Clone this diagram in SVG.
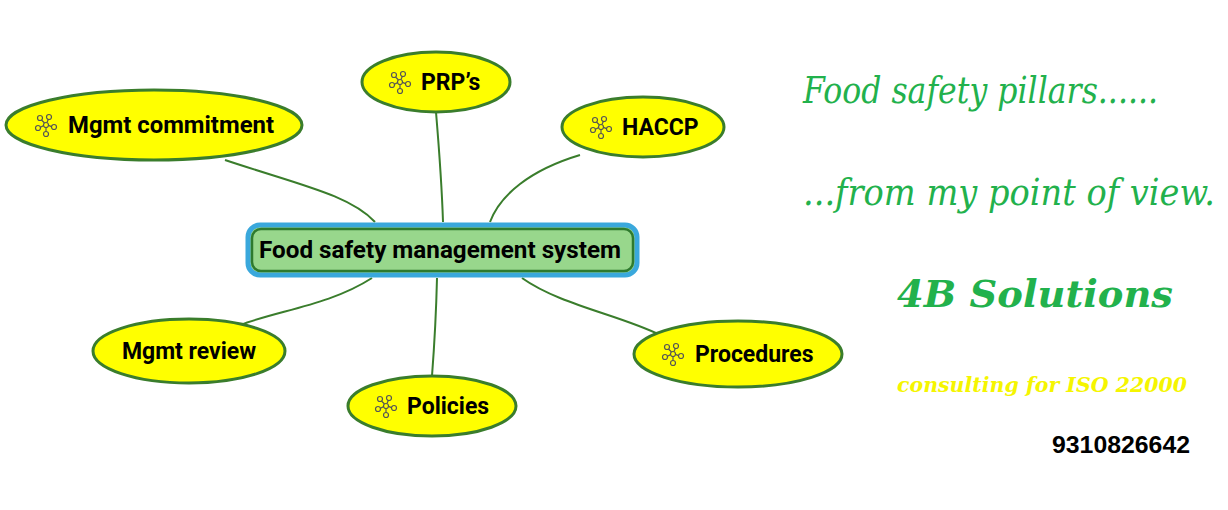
<svg xmlns="http://www.w3.org/2000/svg" width="1228" height="510" viewBox="0 0 1228 510">
<style>
.n{fill:#ffff00;stroke:#3a7d2c;stroke-width:3}
.t{font-family:Roboto,"Liberation Sans",sans-serif;font-weight:bold;font-size:23px;fill:#000}
.c{fill:none;stroke:#3a7d2c;stroke-width:2}
.s{font-family:"DejaVu Serif","Liberation Serif",serif;font-style:italic;fill:#22b14c}
</style>
<defs>
<g id="ic" fill="none" stroke="#555" stroke-width="1.2">
<circle cx="0" cy="0" r="2.5"/><circle cx="-6" cy="-7" r="2.5"/><circle cx="3" cy="-8" r="2.5"/><circle cx="-8" cy="3" r="2.5"/><circle cx="8" cy="2" r="2.5"/><circle cx="0" cy="9" r="2.5"/>
<path d="M-1.5-2-4.5-5M1-2.4 2.3-5.6M-2.4 .6-5.6 2.2M2.4 .4 5.6 1.6M0 2.5V6.5"/>
</g>
</defs>
<rect width="1228" height="510" fill="#fff"/>
<g id="connectors" class="c">
<path d="M225 160 C300 185 350 195 375 222"/>
<path d="M436 112 C440 160 442 190 443 222"/>
<path d="M580 155 C530 170 500 195 490 222"/>
<path d="M372 278 C330 305 280 310 240 325"/>
<path d="M437 278 C436 320 434 350 432 376"/>
<path d="M522 278 C560 305 620 315 660 335"/>
</g>
<g id="center">
<rect x="248" y="225" width="389" height="50" rx="12" fill="#98d78c" stroke="#3aa8dc" stroke-width="5"/>
<rect x="252" y="229" width="381" height="42" rx="9" fill="none" stroke="#2e7a2e" stroke-width="2.5"/>
<text class="t" x="440" y="258" text-anchor="middle" textLength="362" lengthAdjust="spacingAndGlyphs">Food safety management system</text>
</g>
<g id="mgmt-commitment"><ellipse class="n" cx="154" cy="125" rx="148" ry="35"/><use href="#ic" x="46" y="125"/><text class="t" x="68" y="133" textLength="206" lengthAdjust="spacingAndGlyphs">Mgmt commitment</text></g>
<g id="prps"><ellipse class="n" cx="436" cy="82" rx="74" ry="30"/><use href="#ic" x="400" y="82"/><text class="t" x="421" y="90">PRP’s</text></g>
<g id="haccp"><ellipse class="n" cx="643" cy="127" rx="81" ry="30"/><use href="#ic" x="601" y="127"/><text class="t" x="622" y="135">HACCP</text></g>
<g id="mgmt-review"><ellipse class="n" cx="189" cy="351" rx="96" ry="32"/><text class="t" x="189" y="359" text-anchor="middle">Mgmt review</text></g>
<g id="policies"><ellipse class="n" cx="432" cy="406" rx="84" ry="30"/><use href="#ic" x="386" y="406"/><text class="t" x="407" y="414">Policies</text></g>
<g id="procedures"><ellipse class="n" cx="738" cy="354" rx="104" ry="33"/><use href="#ic" x="673" y="354"/><text class="t" x="695" y="362">Procedures</text></g>
<text class="s" x="803" y="103" font-size="38" textLength="355" lengthAdjust="spacingAndGlyphs">Food safety pillars......</text>
<text class="s" x="803" y="205" font-size="38" textLength="412" lengthAdjust="spacingAndGlyphs">...from my point of view.</text>
<text class="s" x="897" y="307" font-size="38" font-weight="bold" textLength="276" lengthAdjust="spacingAndGlyphs">4B Solutions</text>
<text class="s" x="897" y="392" font-size="20" font-weight="bold" style="fill:#f5f500" textLength="290" lengthAdjust="spacingAndGlyphs">consulting for ISO 22000</text>
<text x="1052" y="453" font-family="'Liberation Sans',Arial,sans-serif" font-weight="bold" font-size="24" textLength="138" lengthAdjust="spacingAndGlyphs">9310826642</text>
</svg>
